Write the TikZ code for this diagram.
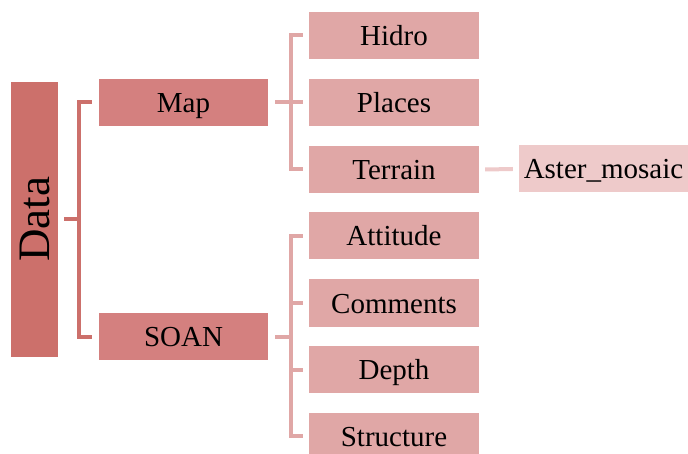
\documentclass[tikz,border=0pt]{standalone}
\usepackage{fontspec}
\setmainfont{Liberation Serif}
\definecolor{cA}{HTML}{CC706B}
\definecolor{cB}{HTML}{D4807F}
\definecolor{cC}{HTML}{E0A7A6}
\definecolor{cD}{HTML}{EECACA}
\begin{document}
\begin{tikzpicture}[x=1pt,y=-1pt,
  box/.style={rectangle,inner sep=0pt,minimum width=169pt,minimum height=47pt,text height=20pt,text depth=0pt,font=\fontsize{29}{29}\selectfont},
  lvA/.style={box,fill=cB},
  lvB/.style={box,fill=cC,minimum width=170pt},
  lvC/.style={box,fill=cD},
  lineA/.style={draw=cA,line width=4pt,line join=miter},
  lineB/.style={draw=cC,line width=4pt,line join=miter},
  lineC/.style={draw=cD,line width=4pt}]
\useasboundingbox (0,0) rectangle (688,454);
\node[rectangle,inner sep=0pt,fill=cA,minimum width=47pt,minimum height=275pt,font=\fontsize{45}{45}\selectfont] (data) at (34.5,219.5) {\rotatebox{90}{Data}};
\node[lvA] (map) at (183.5,102.5) {Map};
\node[lvA] (soan) at (183.5,336.5) {SOAN};
\node[lvB] (hidro) at (394,35.5) {Hidro};
\node[lvB] (places) at (394,102.5) {Places};
\node[lvB] (terrain) at (394,169.5) {Terrain};
\node[lvB] (att) at (394,236) {Attitude};
\node[lvB] (com) at (394,303) {Comments};
\node[lvB] (dep) at (394,369.5) {Depth};
\node[lvB] (str) at (394,436) {Structure};
\node[lvC] (aster) at (603.5,169) {Aster\_mosaic};
% level 1 bracket
\draw[lineA] ([xshift=6pt]data.east) -- ++(15,0);
\draw[lineA] ([xshift=-7pt]map.west) -- ++(-13,0) |- ([xshift=-7pt]soan.west);
% map bracket
\draw[lineB] ([xshift=7pt]map.east) -- ++(16,0);
\draw[lineB] ([xshift=-6pt]hidro.west) -- ++(-12,0) |- ([xshift=-6pt]terrain.west);
\draw[lineB] ([xshift=-6pt]places.west) -- ++(-12,0);
% soan bracket
\draw[lineB] ([xshift=7pt]soan.east) -- ++(16,0);
\draw[lineB] ([xshift=-6pt]att.west) -- ++(-12,0) |- ([xshift=-6pt]str.west);
\draw[lineB] ([xshift=-6pt]com.west) -- ++(-12,0);
\draw[lineB] ([xshift=-6pt]dep.west) -- ++(-12,0);
% terrain to aster
\draw[lineC] ([xshift=6pt]terrain.east) -- ([xshift=-6pt]aster.west);
\end{tikzpicture}
\end{document}
